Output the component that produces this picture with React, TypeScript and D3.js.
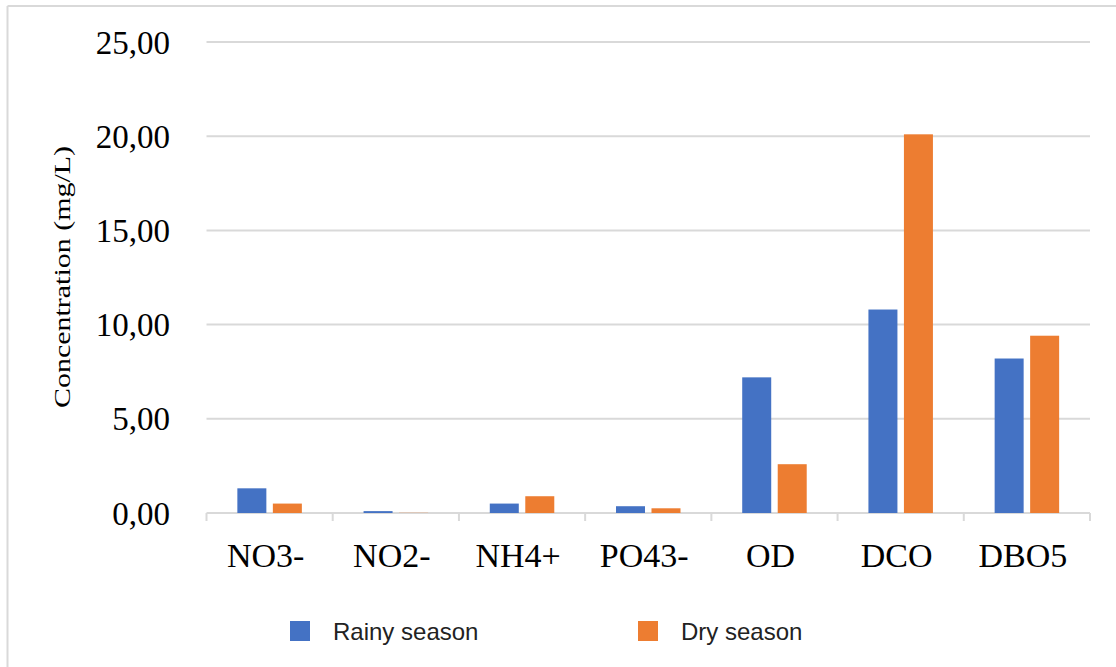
import React from "react";
import * as d3 from "d3";

const categories = ["NO3-", "NO2-", "NH4+", "PO43-", "OD", "DCO", "DBO5"];
const rainyValues = [1.31, 0.1, 0.5, 0.36, 7.2, 10.8, 8.2];
const dryValues = [0.5, 0.01, 0.89, 0.25, 2.59, 20.1, 9.41];
const seriesNames = ["Rainy season", "Dry season"];
const seriesColors = ["#4472C4", "#ED7D31"];
const yTicks = [0, 5, 10, 15, 20, 25];

const W = 1116;
const H = 667;
const left = 206.5;
const right = 1090;
const top = 42;
const bottom = 513;

export default function App() {
  const x = d3.scaleBand<string>().domain(categories).range([left, right]).padding(0);
  const y = d3.scaleLinear().domain([0, 25]).range([bottom, top]);
  const barW = 29;
  const gap = 6.5;
  const fmt = (v: number) => v.toFixed(2).replace(".", ",");
  const series = [rainyValues, dryValues];
  const bounds = categories.map((c) => x(c)!).concat([right]);

  return (
    <svg
      width={W}
      height={H}
      style={{ position: "absolute", left: 0, top: 0, background: "#fff" }}
    >
      <rect x={0} y={0} width={W} height={H} fill="#fff" />
      <line x1={7.5} y1={6} x2={W} y2={6} stroke="#d9d9d9" strokeWidth={2} />
      <line x1={7.5} y1={6} x2={7.5} y2={H} stroke="#d9d9d9" strokeWidth={2} />
      {yTicks.map((t) => (
        <g key={t}>
          <line x1={left} x2={right} y1={y(t)} y2={y(t)} stroke="#d9d9d9" strokeWidth={2} />
          <text
            x={170}
            y={y(t)}
            dy="0.35em"
            textAnchor="end"
            fontFamily="'Liberation Serif', serif"
            fontSize={33}
            fill="#000"
          >
            {fmt(t)}
          </text>
        </g>
      ))}
      {bounds.map((b, i) => (
        <line key={i} x1={b} x2={b} y1={bottom} y2={bottom + 8} stroke="#d9d9d9" strokeWidth={2} />
      ))}
      {categories.map((c, i) => {
        const cx = x(c)! + x.bandwidth() / 2;
        return (
          <g key={c}>
            {series.map((vals, s) => {
              const bx = s === 0 ? cx - gap / 2 - barW : cx + gap / 2;
              return (
                <rect
                  key={s}
                  x={bx}
                  y={y(vals[i])}
                  width={barW}
                  height={bottom - y(vals[i])}
                  fill={seriesColors[s]}
                />
              );
            })}
            <text
              x={cx - 4}
              y={567}
              textAnchor="middle"
              fontFamily="'Liberation Serif', serif"
              fontSize={34}
              fill="#000"
            >
              {c}
            </text>
          </g>
        );
      })}
      <text
        transform={`translate(70, 277) rotate(-90)`}
        textAnchor="middle"
        fontFamily="'Liberation Serif', serif"
        fontSize={24}
        textLength={262}
        lengthAdjust="spacingAndGlyphs"
        fill="#000"
      >
        Concentration (mg/L)
      </text>
      {seriesNames.map((n, i) => {
        const lx = i === 0 ? 290 : 638;
        return (
          <g key={n}>
            <rect x={lx} y={621} width={20} height={20} fill={seriesColors[i]} />
            <text
              x={lx + 43}
              y={640}
              fontFamily="'Liberation Sans', Arial, sans-serif"
              fontSize={24}
              fill="#222"
            >
              {n}
            </text>
          </g>
        );
      })}
    </svg>
  );
}
